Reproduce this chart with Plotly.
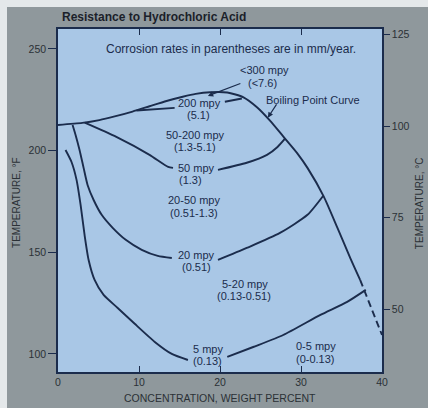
import plotly.graph_objects as go

# Boiling point curve of hydrochloric acid: concentration (wt %) vs temperature (°F)
boil_x = [0, 3.0, 5.1, 7.0, 9.2, 11.3, 13.4, 15.4, 17.0, 18.8, 20.9, 22.9, 24.6, 26.2, 27.8, 29.5, 30.8, 32.8, 34.5, 36.1, 37.3]
boil_t = [212.6, 213.6, 215.0, 216.8, 219.2, 221.8, 224.4, 226.5, 227.9, 228.7, 228.6, 226.2, 221.2, 214.6, 207.0, 198.9, 191.5, 177.5, 162.0, 147.0, 136.4]
# uncertain tail of the boiling curve (dashed)
boil_tail_x = [37.3, 40.0]
boil_tail_t = [136.4, 109.3]

# Iso-corrosion curves, split where the rate label interrupts the line
mpy200_x = [9.7, 14.4, None, 20.6, 22.7]
mpy200_t = [219.7, 221.0, None, 224.0, 225.6]

mpy50_x = [3.3, 7.2, 11.3, 13.6, 14.2, None, 19.75, 23.3, 25.8, 27.1, 28.05]
mpy50_t = [213.7, 206.7, 197.9, 192.0, 191.5, None, 190.5, 194.0, 197.9, 201.8, 206.0]

mpy20_x = [1.8, 2.17, 2.66, 3.16, 3.65, 4.4, 5.39, 6.75, 8.36, 10.34, 12.32, 14.05, None, 19.75, 23.3, 27.4, 30.8, 32.75]
mpy20_t = [212.6, 207.7, 200.3, 191.5, 183.1, 175.7, 168.4, 162.0, 156.1, 151.2, 148.2, 147.2, None, 146.2, 152.1, 159.5, 168.4, 177.8]

mpy5_x = [0.93, 1.67, 2.29, 2.79, 3.28, 3.78, 4.52, 5.63, 7.37, 9.47, 11.95, 14.05, 16.04, None, 20.9, 24.1, 27.8, 32.4, 35.7, 38.0]
mpy5_t = [200.3, 194.4, 185.6, 173.3, 158.5, 146.2, 136.4, 129.0, 122.6, 114.8, 105.9, 100.0, 97.0, None, 98.5, 103.4, 109.3, 119.2, 125.6, 131.5]

# Axis ticks
x_ticks = [0, 10, 20, 30, 40]
f_ticks = [100, 150, 200, 250]
c_ticks = [50, 75, 100, 125]

# Region / curve labels
label_texts = [
    "<300 mpy", "(<7.6)",
    "200 mpy", "(5.1)",
    "Boiling Point Curve",
    "50-200 mpy", "(1.3-5.1)",
    "50 mpy", "(1.3)",
    "20-50 mpy", "(0.51-1.3)",
    "20 mpy", "(0.51)",
    "5-20 mpy", "(0.13-0.51)",
    "5 mpy", "(0.13)",
    "0-5 mpy", "(0-0.13)",
]
label_pos = [
    (25.45, 239.6), (25.3, 233.4),
    (17.5, 223.6), (17.3, 217.4),
    (31.5, 224.9),
    (17.0, 207.85), (16.9, 201.7),
    (17.15, 191.6), (16.4, 185.5),
    (16.8, 175.6), (16.8, 169.5),
    (17.15, 148.8), (17.15, 142.7),
    (23.1, 134.55), (23.0, 128.4),
    (18.5, 102.6), (18.5, 96.4),
    (31.8, 103.8), (31.8, 97.7),
]
note_text = "Corrosion rates in parentheses are in mm/year."
note_pos = (21.4, 250.0)

T_MIN, T_MAX = 91.1, 259.8
INK = "#1b2c4c"
AXIS_TXT = "#2b3136"
FONT = "Liberation Sans, Arial, sans-serif"

fig = go.Figure()
line = dict(color=INK, width=1.9, shape="spline", smoothing=0.6)
for xs, ts in [(boil_x, boil_t), (mpy200_x, mpy200_t), (mpy50_x, mpy50_t),
               (mpy20_x, mpy20_t), (mpy5_x, mpy5_t)]:
    fig.add_trace(go.Scatter(x=xs, y=ts, mode="lines", line=line,
                             hoverinfo="skip", showlegend=False))
fig.add_trace(go.Scatter(x=boil_tail_x, y=boil_tail_t, mode="lines",
                         line=dict(color=INK, width=1.9, dash="7px,4px"),
                         hoverinfo="skip", showlegend=False))
# same boiling curve expressed in °C, carried by the right-hand axis
fig.add_trace(go.Scatter(x=boil_x, y=[(t - 32) / 1.8 for t in boil_t], yaxis="y2",
                         mode="lines", opacity=0, line=dict(width=0),
                         hoverinfo="skip", showlegend=False))

annotations = []
for txt, (lx, ly) in zip(label_texts, label_pos):
    annotations.append(dict(x=lx, y=ly, xref="x", yref="y", text=txt, borderpad=0,
                            showarrow=False, font=dict(family=FONT, size=11, color=INK)))
annotations.append(dict(x=note_pos[0], y=note_pos[1], xref="x", yref="y", text=note_text,
                        showarrow=False, font=dict(family=FONT, size=12, color=INK)))

# leader arrows
for (tx, ty), (sx, sy) in [((18.5, 226.9), (22.7, 233.3)), ((25.9, 216.2), (27.1, 223.5))]:
    annotations.append(dict(x=tx, y=ty, ax=sx, ay=sy, xref="x", yref="y", axref="x", ayref="y",
                            text="", showarrow=True, arrowhead=2, arrowsize=0.9,
                            arrowwidth=1.2, arrowcolor=INK))

# titles
annotations.append(dict(x=0.006, y=1.035, xref="paper", yref="paper", xanchor="left", yanchor="middle",
                        text="<b>Resistance to Hydrochloric Acid</b>", showarrow=False,
                        font=dict(family=FONT, size=12, color="#1b1f2a")))
annotations.append(dict(x=0.5, y=-0.076, xref="paper", yref="paper", xanchor="center", yanchor="middle",
                        text="CONCENTRATION, WEIGHT PERCENT", showarrow=False,
                        font=dict(family=FONT, size=10.5, color=AXIS_TXT)))
annotations.append(dict(x=-0.1265, y=0.493, xref="paper", yref="paper", xanchor="center", yanchor="middle",
                        text="TEMPERATURE, °F", textangle=-90, showarrow=False,
                        font=dict(family=FONT, size=10, color=AXIS_TXT)))
annotations.append(dict(x=1.118, y=0.493, xref="paper", yref="paper", xanchor="center", yanchor="middle",
                        text="TEMPERATURE, °C", textangle=-90, showarrow=False,
                        font=dict(family=FONT, size=10, color=AXIS_TXT)))

axis_line = dict(showline=True, linecolor=INK, linewidth=1.5, showgrid=False, zeroline=False,
                 tickfont=dict(family=FONT, size=10.5, color=AXIS_TXT), tickcolor=INK, tickwidth=1.3)

fig.update_layout(
    width=428, height=408,
    margin=dict(l=58, r=46, t=29, b=36),
    paper_bgcolor="#8f989c",
    plot_bgcolor="#a9c7e6",
    xaxis=dict(range=[0, 40], tickvals=x_ticks, ticks="inside", ticklen=6, mirror="ticks",
               fixedrange=True, **axis_line),
    yaxis=dict(range=[T_MIN, T_MAX], tickvals=f_ticks, ticks="outside", ticklen=8, mirror=True,
               fixedrange=True, **axis_line),
    yaxis2=dict(range=[(T_MIN - 32) / 1.8, (T_MAX - 32) / 1.8], tickvals=c_ticks, overlaying="y",
                side="right", ticks="outside", ticklen=6, fixedrange=True, **axis_line),
    annotations=annotations,
    shapes=[
        dict(type="rect", xref="paper", yref="paper", x0=-0.2, x1=(7 - 58) / 324, y0=-0.2, y1=1.2,
             fillcolor="#e4e8ea", line_width=0, layer="below"),
        dict(type="rect", xref="paper", yref="paper", x0=-0.2, x1=1.2, y0=(372 - 7) / 343, y1=1.2,
             fillcolor="#e4e8ea", line_width=0, layer="below"),
    ],
)

fig.write_html("out.html")
